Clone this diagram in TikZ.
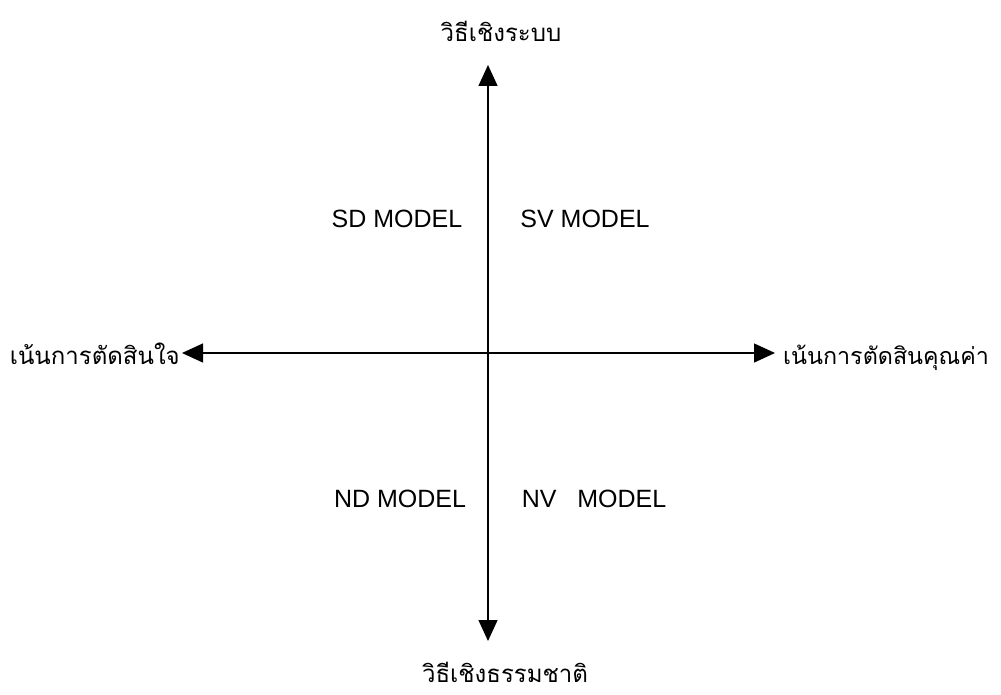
\documentclass[tikz,border=0pt]{standalone}
\usepackage{fontspec}
\setmainfont{Liberation Sans}
\newfontfamily\thaifont[Script=Thai]{Loma}
\usetikzlibrary{arrows.meta}
\begin{document}
\begin{tikzpicture}[x=1pt,y=-1pt,
  axis/.style={line width=1.3pt,{Triangle[length=21pt,width=19pt]}-{Triangle[length=21pt,width=19pt]}},
  model/.style={font=\fontsize{25}{29}\selectfont,inner sep=0pt},
  thai/.style={font=\thaifont\fontsize{24}{29}\selectfont,inner sep=0pt}]
\useasboundingbox (0,0) rectangle (1001,695);
\coordinate (top) at (488,65);
\coordinate (bot) at (488,641);
\coordinate (lft) at (182,353);
\coordinate (rgt) at (775,353);
\draw[axis] (bot) -- (top);
\draw[axis] (lft) -- (rgt);
\node[thai,anchor=south] (ts) at (501,42) {วิธีเชิงระบบ};
\node[thai,anchor=south] (tn) at (505,683) {วิธีเชิงธรรมชาติ};
\node[thai,anchor=base east] (tl) at (180,364) {เน้นการตัดสินใจ};
\node[thai,anchor=base west,font=\thaifont\fontsize{23.3}{28}\selectfont] (tr) at (783,364) {เน้นการตัดสินคุณค่า};
\node[model,anchor=base] (sd) at (397,227) {SD MODEL};
\node[model,anchor=base] (sv) at (585,227) {SV MODEL};
\node[model,anchor=base] (nd) at (400,507) {ND MODEL};
\node[model,anchor=base] (nv) at (594,507) {NV\ \ \ MODEL};
\end{tikzpicture}
\end{document}
